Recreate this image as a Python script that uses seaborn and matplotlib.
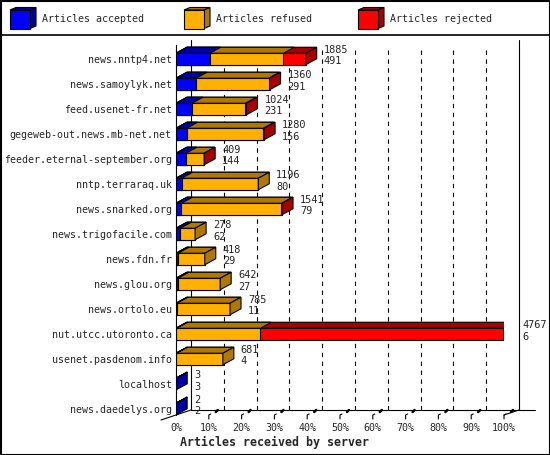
import numpy as np
import matplotlib
matplotlib.use('Agg')
import matplotlib.pyplot as plt
from matplotlib.patches import Polygon, Rectangle
import seaborn as sns
import pandas as pd

hosts = ['news.nntp4.net', 'news.samoylyk.net', 'feed.usenet-fr.net',
         'gegeweb-out.news.mb-net.net', 'feeder.eternal-september.org',
         'nntp.terraraq.uk', 'news.snarked.org', 'news.trigofacile.com',
         'news.fdn.fr', 'news.glou.org', 'news.ortolo.eu',
         'nut.utcc.utoronto.ca', 'usenet.pasdenom.info', 'localhost',
         'news.daedelys.org']
accepted = [491, 291, 231, 156, 144, 80, 79, 62, 29, 27, 11, 6, 4, 3, 2]
refused = [1070, 1054, 774, 1112, 260, 1116, 1454, 216, 389, 615, 774, 1220, 677, 0, 0]
rejected = [324, 15, 19, 12, 5, 0, 8, 0, 0, 0, 0, 3541, 0, 0, 0]
legend_labels = ['Articles accepted', 'Articles refused', 'Articles rejected']
xlabel = 'Articles received by server'

BLUE, BLUE_D = '#0000ff', '#0000a8'
ORANGE, ORANGE_D = '#ffb000', '#b07800'
RED, RED_D = '#ff0000', '#a80000'
DARK = {BLUE: BLUE_D, ORANGE: ORANGE_D, RED: RED_D}

W, H = 550, 455
X0, X1 = 176, 504          # 0% and 100% (front)
Y0, Y1 = 40, 415           # top of plot, front floor
PX_X = (X1 - X0) / 100.0   # px per percent
PX_Y = 25.0                # px per row
BDX, BDY = 11 / PX_X, 6 / PX_Y   # bar depth
WDX, WDY = 15 / PX_X, 5 / PX_Y   # wall depth
YTOP = -(59 - Y0) / PX_Y
YBOT = (Y1 - 59) / PX_Y

df = pd.DataFrame({'host': hosts, 'accepted': accepted,
                   'refused': refused, 'rejected': rejected})
df['total'] = df.accepted + df.refused + df.rejected
vmax = df.total.max()
df['p_acc'] = df.accepted / vmax * 100
df['p_ref'] = (df.accepted + df.refused) / vmax * 100
df['p_tot'] = df.total / vmax * 100

sns.set_style('white')
plt.rcParams['font.family'] = ['DejaVu Sans Mono']

fig = plt.figure(figsize=(W / 100, H / 100), dpi=100)
bg = fig.add_axes([0, 0, 1, 1], zorder=0)
bg.set_xlim(0, W)
bg.set_ylim(H, 0)
bg.axis('off')
ax = fig.add_axes([X0 / W, 1 - Y1 / H, (X1 - X0) / W, (Y1 - Y0) / H], zorder=1)
ax.set_facecolor('none')

# front faces
for col, c in [('p_tot', RED), ('p_ref', ORANGE), ('p_acc', BLUE)]:
    sns.barplot(data=df, x=col, y='host', color=c, saturation=1, width=0.46,
                edgecolor='black', linewidth=0.8, errorbar=None, ax=ax, zorder=3)

# top faces of each segment
for cont, c in zip(ax.containers, [RED, ORANGE, BLUE]):
    for r in cont:
        x0, x1 = r.get_x(), r.get_x() + r.get_width()
        yt = min(r.get_y(), r.get_y() + r.get_height())
        ax.add_patch(Polygon([(x0, yt), (x1, yt), (x1 + BDX, yt - BDY), (x0 + BDX, yt - BDY)],
                             closed=True, fc=DARK[c], ec='black', lw=0.8, zorder=3))

# side face in colour of last segment, and value labels
for i, r in enumerate(ax.containers[0]):
    x1 = r.get_x() + r.get_width()
    yt = min(r.get_y(), r.get_y() + r.get_height())
    yb = max(r.get_y(), r.get_y() + r.get_height())
    c = RED if rejected[i] > 0 else (ORANGE if refused[i] > 0 else BLUE)
    ax.add_patch(Polygon([(x1, yt), (x1, yb), (x1 + BDX, yb - BDY), (x1 + BDX, yt - BDY)],
                         closed=True, fc=DARK[c], ec='black', lw=0.8, zorder=3))
    tx = x1 + 18 / PX_X
    ax.text(tx, i - 6.2 / PX_Y, str(df.total[i]), fontsize=7.4, va='baseline', ha='left', zorder=5)
    ax.text(tx, i + 5.5 / PX_Y, str(accepted[i]), fontsize=7.4, va='baseline', ha='left', zorder=5)

# back wall, floor and grid
kw = dict(color='black', lw=0.8, clip_on=False)
ax.plot([WDX, WDX], [YTOP, YBOT - WDY], **kw)
ax.plot([100 + WDX, 100 + WDX], [YTOP, YBOT - WDY], **kw)
ax.plot([0, 0], [YTOP + 5 / PX_Y, YBOT], zorder=2, **kw)
ax.plot([WDX, (535 - X0) / PX_X], [YBOT - WDY, YBOT - WDY], **kw)
ax.plot([-15 / PX_X, WDX], [YBOT + 5 / PX_Y, YBOT - WDY], **kw)
ax.plot([100, 100 + WDX], [YBOT, YBOT - WDY], **kw)
for t in range(10, 100, 10):
    ax.plot([t + WDX, t + WDX], [-(59 - 50) / PX_Y, YBOT - WDY], color='black', lw=0.8,
            ls=(0, (4, 4)), zorder=0, clip_on=False)
for t in range(10, 101, 10):
    ax.plot([t, t, t + 2 / PX_X], [YBOT + 4 / PX_Y, YBOT, YBOT - 1 / PX_Y], **kw)
    ax.plot([t + 7 / PX_X, t + 9 / PX_X], [YBOT - 3 / PX_Y, YBOT - 5 / PX_Y],
            color='black', lw=1.8, clip_on=False)

ax.set_xlim(0, 100)
ax.set_ylim(YBOT, YTOP)
ax.set_xticks(np.arange(0, 101, 10))
ax.set_xticklabels([f'{t}%' for t in range(0, 101, 10)])
ax.tick_params(axis='x', length=0, labelsize=7.2, pad=6)
ax.tick_params(axis='y', length=0, labelsize=7.2, pad=3)
ax.set_xlabel('')
ax.set_ylabel('')
sns.despine(ax=ax, left=True, bottom=True)
fig.text(180 / W, 1 - 442 / H, xlabel, fontsize=8.4, fontweight='bold',
         ha='left', va='center')

# legend and frame
for lx, c, lab in zip([10, 184, 358], [BLUE, ORANGE, RED], legend_labels):
    bg.add_patch(Polygon([(lx, 10), (lx + 6, 7.5), (lx + 26, 7.5), (lx + 20, 10)],
                         closed=True, fc=DARK[c], ec='black', lw=0.8))
    bg.add_patch(Polygon([(lx + 20, 10), (lx + 26, 7.5), (lx + 26, 26), (lx + 20, 28.5)],
                         closed=True, fc=DARK[c], ec='black', lw=0.8))
    bg.add_patch(Rectangle((lx, 10), 20, 18.5, fc=c, ec='black', lw=0.8))
    bg.text(lx + 32, 19.5, lab, fontsize=7.2, ha='left', va='center')
bg.plot([0, W], [35, 35], color='black', lw=1.2)
bg.add_patch(Rectangle((0.5, 0.5), W - 1, H - 1, fc='none', ec='black', lw=1.5))

plt.savefig('out.png', dpi=100)
